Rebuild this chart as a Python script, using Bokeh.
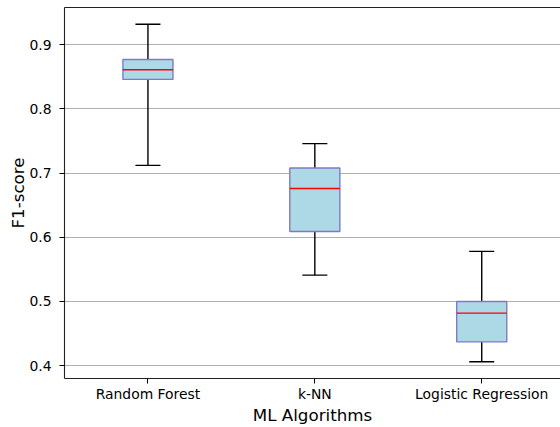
from bokeh.plotting import figure
from bokeh.models import FixedTicker, LinearAxis, Range1d
from bokeh.embed import file_html
from bokeh.resources import INLINE

categories = ["Random Forest", "k-NN", "Logistic Regression"]
positions = [1, 2, 3]
whisker_low = [0.712, 0.541, 0.406]
q1 = [0.846, 0.609, 0.437]
median = [0.861, 0.676, 0.482]
q3 = [0.877, 0.708, 0.500]
whisker_high = [0.932, 0.746, 0.578]
y_ticks = [0.4, 0.5, 0.6, 0.7, 0.8, 0.9]

FONT = "DejaVu Sans"
box_w = 0.3
cap_w = 0.15

p = figure(width=560, height=427, output_backend="svg", toolbar_location=None,
           x_range=Range1d(0.5, 3.472), y_range=Range1d(0.380, 0.958),
           min_border_left=64, min_border_right=0, min_border_top=7, min_border_bottom=47)
p.outline_line_color = None
p.background_fill_color = "white"
p.border_fill_color = "white"

# whiskers
p.segment(x0=positions, y0=q3, x1=positions, y1=whisker_high, line_color="black", line_width=1.4)
p.segment(x0=positions, y0=q1, x1=positions, y1=whisker_low, line_color="black", line_width=1.4)
# caps
p.segment(x0=[x - cap_w / 2 for x in positions], y0=whisker_high,
          x1=[x + cap_w / 2 for x in positions], y1=whisker_high, line_color="black", line_width=1.4)
p.segment(x0=[x - cap_w / 2 for x in positions], y0=whisker_low,
          x1=[x + cap_w / 2 for x in positions], y1=whisker_low, line_color="black", line_width=1.4)
# boxes
p.vbar(x=positions, width=box_w, bottom=q1, top=q3, fill_color="#add8e6",
       line_color="#7f7ac6", line_width=1.4)
# medians
p.segment(x0=[x - box_w / 2 for x in positions], y0=median,
          x1=[x + box_w / 2 for x in positions], y1=median, line_color="red", line_width=1.3)

# axes
p.xaxis.ticker = FixedTicker(ticks=positions)
p.xaxis.major_label_overrides = {pos: c for pos, c in zip(positions, categories)}
p.yaxis.ticker = FixedTicker(ticks=y_ticks)
p.yaxis.major_label_overrides = {t: f"{t:.1f}" for t in y_ticks}
for ax in (p.xaxis, p.yaxis):
    ax.axis_line_color = "#222222"
    ax.axis_line_width = 1.1
    ax.major_tick_line_color = "black"
    ax.major_tick_in = 0
    ax.major_tick_out = 5
    ax.minor_tick_line_color = None
    ax.major_label_text_font = FONT
    ax.major_label_text_font_size = "13.9px"
    ax.major_label_text_color = "black"
    ax.axis_label_text_font = FONT
    ax.axis_label_text_font_size = "16.7px"
    ax.axis_label_text_font_style = "normal"
    ax.axis_label_text_color = "black"
p.xaxis.axis_label = "ML Algorithms"
p.yaxis.axis_label = "F1-score"
p.xaxis.major_label_standoff = 2
p.xaxis.axis_label_standoff = 0
p.yaxis.major_label_standoff = 8
p.yaxis.axis_label_standoff = -2

top = LinearAxis(ticker=FixedTicker(ticks=[]), major_label_text_font_size="0px",
                 major_tick_line_color=None, minor_tick_line_color=None,
                 axis_line_color="#222222", axis_line_width=1.1,
                 major_label_standoff=0)
p.add_layout(top, "above")

p.xgrid.grid_line_color = None
p.ygrid.ticker = FixedTicker(ticks=y_ticks)
p.ygrid.grid_line_color = "#b0b0b0"
p.ygrid.grid_line_width = 1.1

open("out.html", "w").write(file_html(p, INLINE))
